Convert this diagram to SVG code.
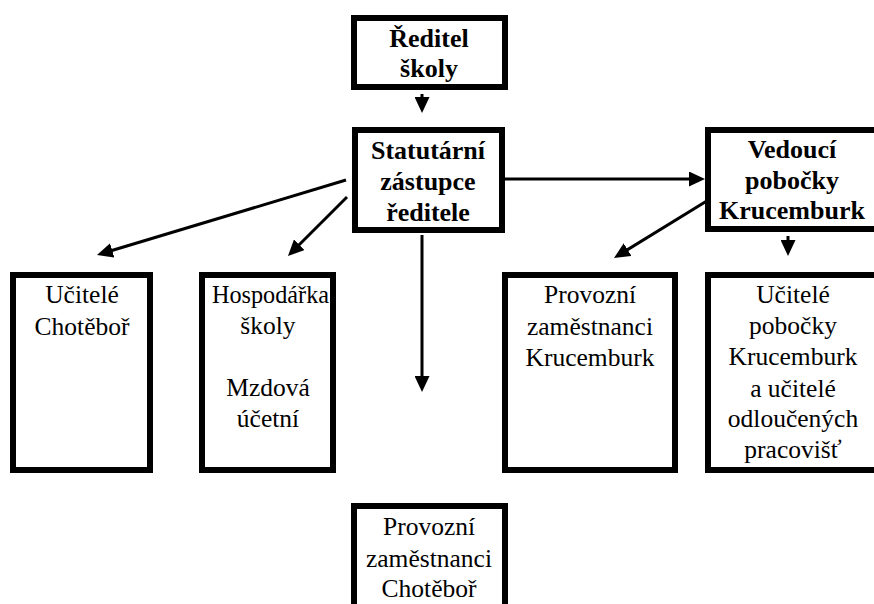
<svg xmlns="http://www.w3.org/2000/svg" width="874" height="604" viewBox="0 0 874 604">
<defs>
<marker id="ah" markerUnits="userSpaceOnUse" markerWidth="16" markerHeight="15" refX="10" refY="7.5" orient="auto">
<path d="M0,0 L16,7.5 L0,15 z" fill="#000"/>
</marker>
<style>
.box{fill:#fff;stroke:#000;stroke-width:6}
text{font-family:'Liberation Serif','Times New Roman',Times,serif;text-anchor:middle;fill:#000}
.b{font-weight:bold;font-size:26px}
.r{font-size:25.5px}
.c{stroke:#000;stroke-width:3;fill:none;marker-end:url(#ah)}
</style>
</defs>
<rect width="874" height="604" fill="#fff"/>
<g id="connectors">
<line class="c" x1="422" y1="94" x2="422" y2="107"/>
<line class="c" x1="500" y1="179" x2="699" y2="179"/>
<line class="c" x1="346" y1="180" x2="102.7" y2="253.3"/>
<line class="c" x1="347" y1="197" x2="292.2" y2="251.8"/>
<line class="c" x1="422" y1="235" x2="422" y2="386"/>
<line class="c" x1="710" y1="199" x2="619.1" y2="254.9"/>
<line class="c" x1="788" y1="236" x2="788" y2="250"/>
</g>
<g id="reditel">
<rect class="box" x="354" y="18" width="151" height="69"/>
<text class="b" x="429" y="47">Ředitel</text>
<text class="b" x="429" y="77">školy</text>
</g>
<g id="statutarni">
<rect class="box" x="355" y="130" width="147" height="100"/>
<text class="b" x="428" y="159">Statutární</text>
<text class="b" x="428" y="190">zástupce</text>
<text class="b" x="428" y="221">ředitele</text>
</g>
<g id="vedouci">
<rect class="box" x="708" y="130" width="170" height="99"/>
<text class="b" x="792" y="158">Vedoucí</text>
<text class="b" x="792" y="189">pobočky</text>
<text class="b" x="792" y="219">Krucemburk</text>
</g>
<g id="ucitele-chotebor">
<rect class="box" x="13" y="275" width="137" height="195"/>
<text class="r" x="82" y="303">Učitelé</text>
<text class="r" x="82" y="335">Chotěboř</text>
</g>
<g id="hospodarka">
<rect class="box" x="202" y="275" width="131" height="195"/>
<text class="r" x="270.5" y="303" textLength="117" lengthAdjust="spacingAndGlyphs">Hospodářka</text>
<text class="r" x="268" y="334">školy</text>
<text class="r" x="268" y="396">Mzdová</text>
<text class="r" x="268" y="427">účetní</text>
</g>
<g id="provozni-krucemburk">
<rect class="box" x="505" y="275" width="170" height="195"/>
<text class="r" x="590" y="303">Provozní</text>
<text class="r" x="590" y="335">zaměstnanci</text>
<text class="r" x="590" y="366">Krucemburk</text>
</g>
<g id="ucitele-pobocky">
<rect class="box" x="708" y="275" width="170" height="195"/>
<text class="r" x="793" y="303">Učitelé</text>
<text class="r" x="793" y="334">pobočky</text>
<text class="r" x="793" y="365">Krucemburk</text>
<text class="r" x="793" y="397">a učitelé</text>
<text class="r" x="793" y="427">odloučených</text>
<text class="r" x="793" y="458">pracovišť</text>
</g>
<g id="provozni-chotebor">
<rect class="box" x="354" y="506" width="151" height="120"/>
<text class="r" x="429" y="535">Provozní</text>
<text class="r" x="429" y="567">zaměstnanci</text>
<text class="r" x="429" y="597">Chotěboř</text>
</g>
</svg>
